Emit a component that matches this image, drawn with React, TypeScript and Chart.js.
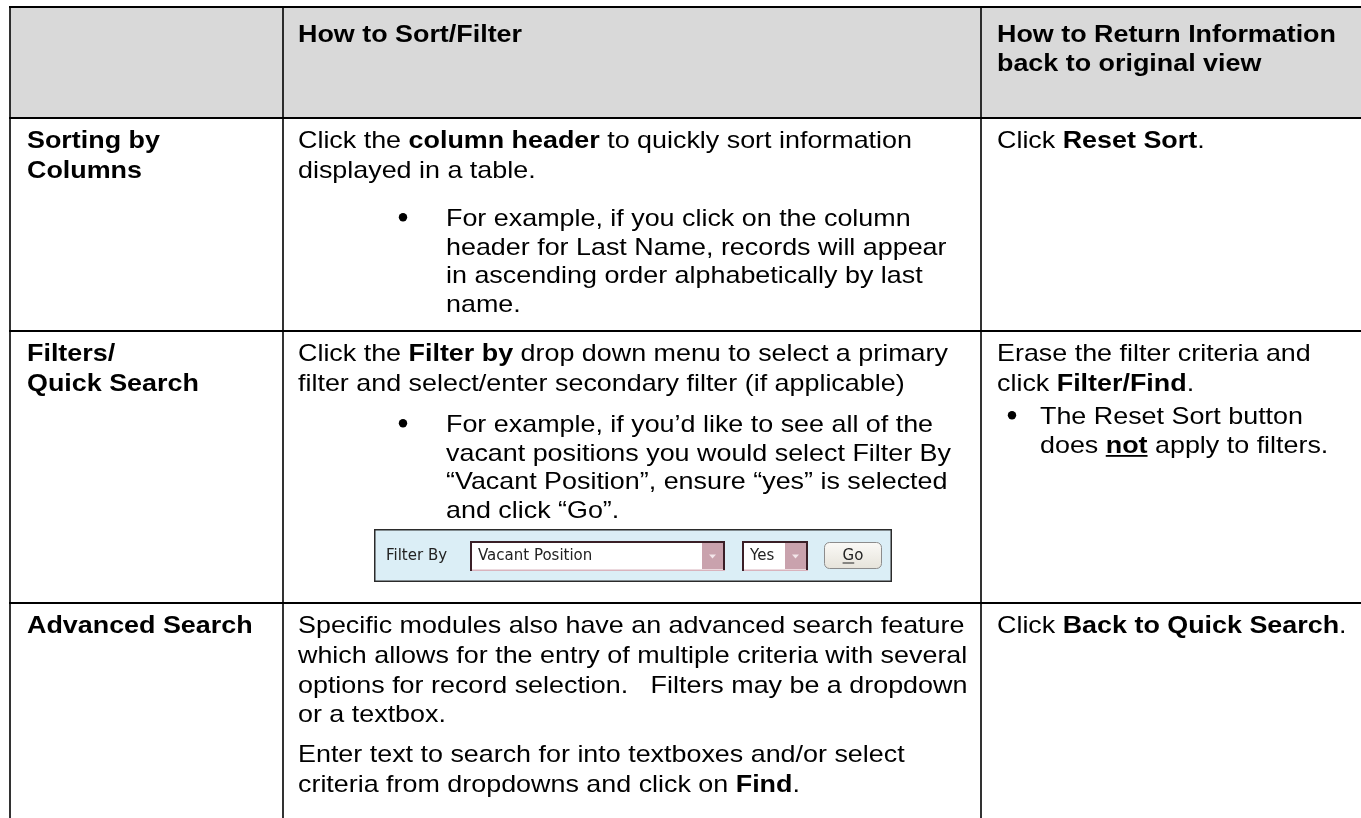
import React, { useEffect, useRef } from "react";
import { Chart, registerables } from "chart.js";

Chart.register(...registerables);

// ---------------- content ----------------
const headerTitles: string[][] = [
  [],
  ["How to Sort/Filter"],
  ["How to Return Information", "back to original view"],
];

const rowLabels: string[][] = [
  ["Sorting by", "Columns"],
  ["Filters/", "Quick Search"],
  ["Advanced Search"],
];

// line kinds: p = paragraph line, np = new paragraph, li = first bullet line, lc = bullet continuation
const sortHow: [string, string][] = [
  ["p", "Click the **column header** to quickly sort information"],
  ["p", "displayed in a table."],
  ["li", "For example, if you click on the column"],
  ["lc", "header for Last Name, records will appear"],
  ["lc", "in ascending order alphabetically by last"],
  ["lc", "name."],
];
const sortReturn: [string, string][] = [["p", "Click **Reset Sort**."]];

const filterHow: [string, string][] = [
  ["p", "Click the **Filter by** drop down menu to select a primary"],
  ["p", "filter and select/enter secondary filter (if applicable)"],
  ["li", "For example, if you\u2019d like to see all of the"],
  ["lc", "vacant positions you would select Filter By"],
  ["lc", "\u201cVacant Position\u201d, ensure \u201cyes\u201d is selected"],
  ["lc", "and click \u201cGo\u201d."],
];
const filterReturn: [string, string][] = [
  ["p", "Erase the filter criteria and"],
  ["p", "click **Filter/Find**."],
  ["li", "The Reset Sort button"],
  ["lc", "does __not__ apply to filters."],
];

const advancedHow: [string, string][] = [
  ["p", "Specific modules also have an advanced search feature"],
  ["p", "which allows for the entry of multiple criteria with several"],
  ["p", "options for record selection.   Filters may be a dropdown"],
  ["p", "or a textbox."],
  ["np", "Enter text to search for into textboxes and/or select"],
  ["p", "criteria from dropdowns and click on **Find**."],
];
const advancedReturn: [string, string][] = [["p", "Click **Back to Quick Search**."]];

const widgetLabel = "Filter By";
const widgetPrimary = "Vacant Position";
const widgetSecondary = "Yes";
const widgetButton = "Go";

// ---------------- layout ----------------
const W = 1361;
const H = 818;
const COL_EDGES = [10, 283, 981, 1400];
const ROW_EDGES = [7, 118, 331, 603];
const BOTTOM = 830;
const TEXT_X = [27, 298, 997];
const BULLET_DOT = 105; // offset of dot from text x of column
const BULLET_TEXT = 148;
const BULLET_DOT_C = 15;
const BULLET_TEXT_C = 43;
const FIRST_BASE = 30;
const P_PITCH = 29.8;
const L_PITCH = 28.7;
const NP_GAP = 40;
const LIST_GAPS = [[0, 48, 0], [0, 41, 33], [0, 0, 0]];
const FONT_SIZE = 24;
const SX = 1.12;
const FONT = '"Liberation Sans", Arial, Helvetica, sans-serif';

const cellContent: [string, string][][][] = [
  [[], sortHow, sortReturn],
  [[], filterHow, filterReturn],
  [[], advancedHow, advancedReturn],
];

function parseRuns(s: string) {
  return s
    .split(/(\*\*[^*]+\*\*|__[^_]+__)/)
    .filter((p) => p.length > 0)
    .map((p) =>
      p.startsWith("**")
        ? { t: p.slice(2, -2), b: true, u: false }
        : p.startsWith("__")
        ? { t: p.slice(2, -2), b: true, u: true }
        : { t: p, b: false, u: false }
    );
}

function drawRich(ctx: CanvasRenderingContext2D, s: string, x: number, y: number, boldAll = false) {
  ctx.save();
  ctx.translate(x, y);
  ctx.scale(SX, 1);
  ctx.fillStyle = "#000";
  ctx.textBaseline = "alphabetic";
  ctx.textAlign = "left";
  let cx = 0;
  for (const r of parseRuns(s)) {
    ctx.font = `${r.b || boldAll ? "bold " : ""}${FONT_SIZE}px ${FONT}`;
    ctx.fillText(r.t, cx, 0);
    const w = ctx.measureText(r.t).width;
    if (r.u) ctx.fillRect(cx, 2.5, w, 1.8);
    cx += w;
  }
  ctx.restore();
}

const tablePlugin = {
  id: "tableCells",
  beforeDatasetsDraw(chart: any) {
    const { ctx, scales } = chart;
    const px = (v: number) => scales.x.getPixelForValue(v);
    const py = (v: number) => scales.y.getPixelForValue(v);
    ctx.save();
    ctx.fillStyle = "#d9d9d9";
    ctx.fillRect(px(COL_EDGES[0]), py(ROW_EDGES[0]), px(COL_EDGES[3]) - px(COL_EDGES[0]), py(ROW_EDGES[1]) - py(ROW_EDGES[0]));
    ctx.restore();
  },
  afterDatasetsDraw(chart: any) {
    const { ctx, scales } = chart;
    const px = (v: number) => scales.x.getPixelForValue(v);
    const py = (v: number) => scales.y.getPixelForValue(v);

    // header
    headerTitles.forEach((lines, c) => {
      lines.forEach((ln, i) => {
        drawRich(ctx, ln, px(TEXT_X[c]), py(ROW_EDGES[0] + 35 + i * 29), true);
      });
    });

    // row labels
    rowLabels.forEach((lines, r) => {
      lines.forEach((ln, i) => {
        drawRich(ctx, ln, px(TEXT_X[0]), py(ROW_EDGES[r + 1] + FIRST_BASE + i * P_PITCH), true);
      });
    });

    // body cells
    cellContent.forEach((row, r) => {
      row.forEach((lines, c) => {
        let yb = ROW_EDGES[r + 1] + FIRST_BASE;
        lines.forEach(([kind, text], i) => {
          if (i > 0) {
            if (kind === "p") yb += P_PITCH;
            else if (kind === "np") yb += NP_GAP;
            else if (kind === "li") yb += LIST_GAPS[r][c];
            else yb += L_PITCH;
          }
          let tx = TEXT_X[c];
          if (kind === "li" || kind === "lc") {
            const dotOff = c === 2 ? BULLET_DOT_C : BULLET_DOT;
            const txtOff = c === 2 ? BULLET_TEXT_C : BULLET_TEXT;
            tx = TEXT_X[c] + txtOff;
            if (kind === "li") {
              ctx.save();
              ctx.fillStyle = "#000";
              ctx.beginPath();
              ctx.arc(px(TEXT_X[c] + dotOff), py(yb - 8.5), 4.2, 0, Math.PI * 2);
              ctx.fill();
              ctx.restore();
            }
          }
          drawRich(ctx, text, px(tx), py(yb));
        });
      });
    });

    // filter widget screenshot
    const bx0 = px(374), by0 = py(529), bx1 = px(892), by1 = py(582);
    ctx.save();
    ctx.fillStyle = "#dbeef6";
    ctx.fillRect(bx0, by0, bx1 - bx0, by1 - by0);
    ctx.strokeStyle = "#2b2b2b";
    ctx.lineWidth = 1.5;
    ctx.strokeRect(bx0 + 0.75, by0 + 0.75, bx1 - bx0 - 1.5, by1 - by0 - 1.5);
    ctx.fillStyle = "#222";
    ctx.font = '15px "DejaVu Sans", Verdana, sans-serif';
    ctx.textBaseline = "middle";
    ctx.fillText(widgetLabel, px(386), py(556));

    const drawSelect = (x0: number, x1: number, text: string) => {
      const sx0 = px(x0), sx1 = px(x1), sy0 = py(541), sy1 = py(571);
      ctx.fillStyle = "#ffffff";
      ctx.fillRect(sx0, sy0, sx1 - sx0, sy1 - sy0);
      // button
      const b0 = sx1 - 23;
      ctx.fillStyle = "#c9a2ad";
      ctx.fillRect(b0, sy0 + 2, sx1 - b0 - 2, sy1 - sy0 - 4);
      ctx.fillStyle = "#f3e6ea";
      ctx.beginPath();
      const cxm = (b0 + sx1 - 2) / 2, cym = (sy0 + sy1) / 2;
      ctx.moveTo(cxm - 3.5, cym - 1.5);
      ctx.lineTo(cxm + 3.5, cym - 1.5);
      ctx.lineTo(cxm, cym + 2.5);
      ctx.closePath();
      ctx.fill();
      // borders
      ctx.strokeStyle = "#d9b3bd";
      ctx.lineWidth = 1.5;
      ctx.strokeRect(sx0 + 0.75, sy0 + 0.75, sx1 - sx0 - 1.5, sy1 - sy0 - 1.5);
      ctx.strokeStyle = "#3a1f27";
      ctx.lineWidth = 2;
      ctx.beginPath();
      ctx.moveTo(sx0 + 1, sy1);
      ctx.lineTo(sx0 + 1, sy0 + 1);
      ctx.lineTo(sx1, sy0 + 1);
      ctx.moveTo(sx1 - 1, sy0 + 1);
      ctx.lineTo(sx1 - 1, sy1 - 1);
      ctx.stroke();
      ctx.fillStyle = "#222";
      ctx.textBaseline = "middle";
      ctx.fillText(text, sx0 + 8, cym + 0.5);
    };
    drawSelect(470, 725, widgetPrimary);
    drawSelect(742, 808, widgetSecondary);

    // Go button
    const gx0 = px(824), gx1 = px(882), gy0 = py(542), gy1 = py(569);
    ctx.beginPath();
    (ctx as any).roundRect(gx0 + 0.5, gy0 + 0.5, gx1 - gx0 - 1, gy1 - gy0 - 1, 5);
    const grad = ctx.createLinearGradient(0, gy0, 0, gy1);
    grad.addColorStop(0, "#fbfaf7");
    grad.addColorStop(1, "#e6e3da");
    ctx.fillStyle = grad;
    ctx.fill();
    ctx.strokeStyle = "#8c8c8c";
    ctx.lineWidth = 1;
    ctx.stroke();
    ctx.fillStyle = "#222";
    ctx.textAlign = "center";
    ctx.textBaseline = "middle";
    ctx.fillText(widgetButton, (gx0 + gx1) / 2, (gy0 + gy1) / 2 + 0.5);
    const gw = ctx.measureText(widgetButton).width;
    const gW = ctx.measureText(widgetButton[0]).width;
    ctx.fillRect((gx0 + gx1) / 2 - gw / 2, (gy0 + gy1) / 2 + 7, gW, 1);
    ctx.restore();
  },
};

function ruleDatasets() {
  const sets: any[] = [];
  ROW_EDGES.forEach((r) => {
    sets.push({
      data: [{ x: COL_EDGES[0] - 1, y: r }, { x: COL_EDGES[3], y: r }],
      borderWidth: 2,
    });
  });
  COL_EDGES.slice(0, 3).forEach((c) => {
    sets.push({
      data: [{ x: c, y: ROW_EDGES[0] }, { x: c, y: BOTTOM }],
      borderWidth: 1.6,
    });
  });
  return sets.map((s) => ({
    ...s,
    showLine: true,
    borderColor: "#000",
    pointRadius: 0,
    pointHoverRadius: 0,
    borderCapStyle: "butt",
    tension: 0,
    clip: false,
  }));
}

export default function App() {
  const ref = useRef<HTMLCanvasElement | null>(null);
  useEffect(() => {
    document.body.style.margin = "0";
    document.body.style.background = "#fff";
    if (!ref.current) return;
    const chart = new Chart(ref.current, {
      type: "scatter",
      data: { datasets: ruleDatasets() },
      options: {
        animation: false,
        responsive: false,
        devicePixelRatio: 1,
        layout: { padding: 0 },
        events: [],
        plugins: { legend: { display: false }, tooltip: { enabled: false }, title: { display: false } },
        scales: {
          x: { type: "linear", min: 0, max: W, display: false },
          y: { type: "linear", min: 0, max: H, reverse: true, display: false },
        },
      },
      plugins: [tablePlugin],
    });
    return () => chart.destroy();
  }, []);
  return (
    <div style={{ position: "absolute", left: 0, top: 0, width: W, height: H, background: "#fff" }}>
      <canvas ref={ref} width={W} height={H} style={{ display: "block" }} />
    </div>
  );
}
